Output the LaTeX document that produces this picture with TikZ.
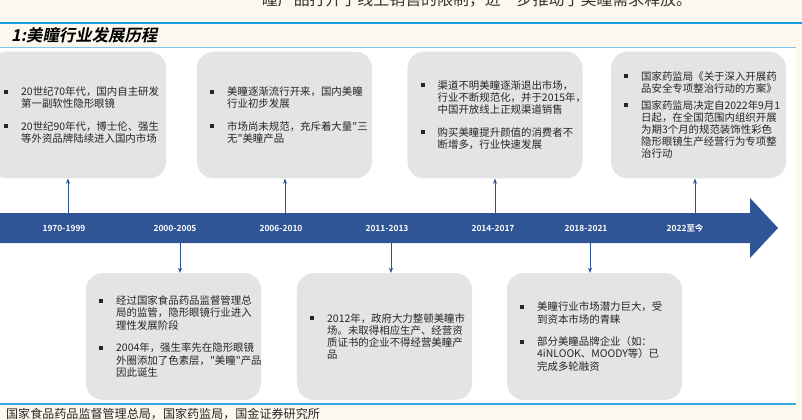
\documentclass[tikz,border=0pt]{standalone}
\usepackage{fontspec}
\usepackage{xcolor}
\usepackage{tikz}
\usetikzlibrary{arrows.meta,positioning}
\newfontfamily\cjk{Noto Sans CJK SC}[BoldFont={Noto Sans CJK SC Bold}]
\newfontfamily\cjktitle{Noto Sans CJK SC Bold}[FakeSlant=0.2]

\definecolor{pagebg}{HTML}{FCF8EE}
\definecolor{bandblue}{HTML}{2F5597}
\definecolor{ruledark}{HTML}{12A0E3}
\definecolor{rulelight}{HTML}{7CC5EC}
\definecolor{rulemid}{HTML}{3AA8E0}
\definecolor{boxgray}{HTML}{E4E4E4}

\newcommand\itm[1]{{\let\\\newline\leftskip=10pt\hangindent=14.5pt\hangafter=1\noindent\makebox[14.5pt][l]{\rule[1.6pt]{3.4pt}{3.4pt}}#1\par}}
\newcommand\gap{\vskip 9pt}

\begin{document}
\begin{tikzpicture}[
    x=0.03cm, y=-0.03cm,
    box/.style={fill=boxgray, rounded corners=0.5cm, minimum width=5.25cm, minimum height=3.8cm, text width=5.16cm, inner sep=0pt, font=\cjk\fontsize{8.9pt}{10.4pt}\selectfont, text=black!85},
    year/.style={text=white, font=\cjk\bfseries\fontsize{7.2pt}{8pt}\selectfont},
    link/.style={-{Stealth[length=4.5pt,width=3.6pt]}, draw=bandblue, line width=0.8pt}
]
\useasboundingbox (0,0) rectangle (802,420);
\fill[pagebg] (0,0) rectangle (802,420);
\fill[white] (0,48) rectangle (796,404);

% page text and rules
\node[anchor=base, font=\cjk\fontsize{13.6pt}{14pt}\selectfont, text=black!80] (lead) at (477,5) {瞳产品打开了线上销售的限制，进一步推动了美瞳需求释放。};
\draw[ruledark, line width=1.6pt] (0,23) -- (802,23);
\draw[rulelight, line width=1.2pt] (0,47.5) -- (796,47.5);
\node[anchor=west, font=\cjktitle\fontsize{14pt}{15pt}\selectfont] (title) at (7,35) {1:美瞳行业发展历程};
\draw[rulemid, line width=1.6pt] (0,404) -- (796,404);
\node[anchor=base west, font=\cjk\fontsize{10.3pt}{11pt}\selectfont, text=black!85] (source) at (2,418) {国家食品药品监督管理总局，国家药监局，国金证券研究所};

% timeline band
\fill[bandblue] (-2,213) -- (750,213) -- (750,198) -- (778,228) -- (750,258) -- (750,243) -- (-2,243) -- cycle;
\node[year] (y1970) at (64,228) {1970-1999};
\node[year] (y2000) at (175,228) {2000-2005};
\node[year] (y2006) at (281,228) {2006-2010};
\node[year] (y2011) at (387,228) {2011-2013};
\node[year] (y2014) at (493,228) {2014-2017};
\node[year] (y2018) at (586,228) {2018-2021};
\node[year] (y2022) at (685,228) {2022至今};

% upper boxes
\node[box] (p1970) at (78.5,115) {
  \itm{20世纪70年代，国内自主研发\\第一副软性隐形眼镜}\gap
  \itm{20世纪90年代，博士伦、强生\\等外资品牌陆续进入国内市场}};
\node[box] (p2006) at (284.5,115) {
  \itm{美瞳逐渐流行开来，国内美瞳\\行业初步发展}\gap
  \itm{市场尚未规范，充斥着大量"三\\无"美瞳产品}};
\node[box] (p2014) at (495,115) {
  \itm{渠道不明美瞳逐渐退出市场，\\行业不断规范化，并于2015年，\\中国开放线上正规渠道销售}\gap
  \itm{购买美瞳提升颜值的消费者不\\断增多，行业快速发展}};
\node[box] (p2022) at (698.5,115) {
  \itm{国家药监局《关于深入开展药\\品安全专项整治行动的方案》}\vskip 4pt
  \itm{国家药监局决定自2022年9月1\\日起，在全国范围内组织开展\\为期3个月的规范装饰性彩色\\隐形眼镜生产经营行为专项整\\治行动}};

% lower boxes
\node[box] (p2000) at (173.5,336.5) {
  \itm{经过国家食品药品监督管理总\\局的监管，隐形眼镜行业进入\\理性发展阶段}\gap
  \itm{2004年，强生率先在隐形眼镜\\外圈添加了色素层，"美瞳"产品\\因此诞生}};
\node[box] (p2011) at (384.5,336.5) {
  \itm{2012年，政府大力整顿美瞳市\\场。未取得相应生产、经营资\\质证书的企业不得经营美瞳产\\品}};
\node[box] (p2018) at (594.5,336.5) {
  \itm{美瞳行业市场潜力巨大，受\\到资本市场的青睐}\gap
  \itm{部分美瞳品牌企业（如：\\4iNLOOK、MOODY等）已\\完成多轮融资}};

% connectors
\coordinate (u1) at (68,213);
\coordinate (u2) at (285,213);
\coordinate (u3) at (495,213);
\coordinate (u4) at (695,213);
\coordinate (d1) at (180,243);
\coordinate (d2) at (391,243);
\coordinate (d3) at (590,243);
\draw[link] (u1) -- (u1 |- p1970.south);
\draw[link] (u2) -- (u2 |- p2006.south);
\draw[link] (u3) -- (u3 |- p2014.south);
\draw[link] (u4) -- (u4 |- p2022.south);
\draw[link] (d1) -- (d1 |- p2000.north);
\draw[link] (d2) -- (d2 |- p2011.north);
\draw[link] (d3) -- (d3 |- p2018.north);
\end{tikzpicture}
\end{document}
